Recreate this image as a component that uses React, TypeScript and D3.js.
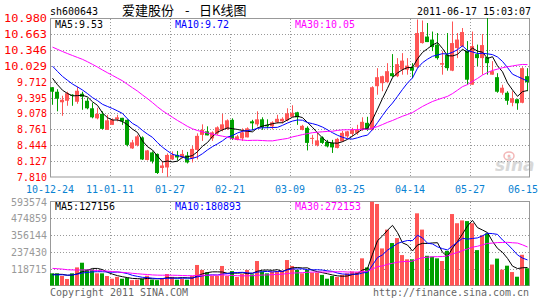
import React from "react";
import * as d3 from "d3";

const W = 545;
const H = 300;

const xLabels = ["10-12-24", "11-01-11", "01-27", "02-21", "03-09", "03-25", "04-14", "05-27", "06-15"];
const priceTicks = [10.98, 10.663, 10.346, 10.029, 9.712, 9.395, 9.078, 8.761, 8.444, 8.127, 7.81];
const volTicks = [593574, 474859, 356144, 237430, 118715];
const priceMaText = ["MA5:9.53", "MA10:9.72", "MA30:10.05"];
const volMaText = ["MA5:127156", "MA10:180893", "MA30:272153"];

const openP = [9.60,9.51,9.30,9.33,9.45,9.31,9.47,9.33,9.18,8.98,9.07,8.75,8.85,8.96,8.99,8.95,8.38,8.44,8.60,8.15,8.30,8.27,7.99,8.00,8.16,8.25,8.20,8.24,8.18,8.35,8.65,8.72,8.58,8.68,8.75,8.77,8.95,8.55,8.58,8.60,8.92,8.86,8.96,8.85,8.82,8.90,8.92,8.94,9.01,9.10,8.75,8.79,8.57,8.44,8.60,8.51,8.49,8.39,8.52,8.62,8.67,8.69,8.75,8.89,8.75,9.62,9.68,9.70,9.88,9.82,9.95,9.95,10.00,10.00,10.48,10.61,10.55,10.45,10.05,10.25,9.93,10.38,10.42,10.33,9.65,10.26,10.18,10.20,9.85,9.80,9.49,9.49,9.29,9.36,9.29,9.82];
const highP = [9.60,9.56,9.43,9.51,9.46,9.61,9.51,9.39,9.29,9.19,9.12,9.05,8.98,9.05,8.99,8.96,8.55,8.65,8.62,8.35,8.32,8.28,8.13,8.28,8.32,8.33,8.35,8.31,8.43,8.68,8.86,8.82,8.72,8.82,9.07,8.96,8.98,8.65,8.78,8.80,8.95,9.12,9.00,8.96,8.92,9.05,9.00,9.18,9.24,9.11,8.85,8.82,8.65,8.69,8.62,8.55,8.55,8.59,8.73,8.73,8.79,8.85,9.00,9.01,9.62,9.98,9.83,10.08,10.26,10.18,10.28,10.18,10.08,10.95,10.93,10.88,10.71,10.68,10.32,10.68,10.91,10.68,10.78,10.52,10.71,10.45,10.66,10.98,10.12,9.88,9.65,9.52,9.52,9.37,10.00,9.98];
const lowP = [9.25,9.12,9.03,9.23,9.23,9.27,9.15,9.16,8.98,8.96,8.76,8.75,8.85,8.92,8.85,8.42,8.37,8.42,8.15,8.14,8.08,7.87,7.89,7.81,8.15,8.14,8.18,8.08,8.10,8.16,8.53,8.64,8.53,8.65,8.72,8.75,8.55,8.54,8.53,8.60,8.74,8.82,8.75,8.78,8.76,8.88,8.88,8.92,9.01,8.85,8.74,8.34,8.46,8.42,8.47,8.40,8.29,8.38,8.51,8.59,8.62,8.65,8.73,8.73,8.74,9.45,9.52,9.68,9.80,9.80,9.85,9.85,9.78,9.98,10.47,10.50,10.32,10.15,9.85,9.93,9.92,10.18,10.40,9.65,9.65,10.02,9.85,9.85,9.85,9.49,9.45,9.25,9.22,9.15,9.28,9.52];
const closeP = [9.51,9.37,9.35,9.48,9.43,9.53,9.41,9.18,9.00,9.07,8.77,8.94,8.95,9.00,8.92,8.45,8.50,8.62,8.16,8.34,8.12,7.89,8.04,8.25,8.25,8.20,8.27,8.10,8.37,8.63,8.75,8.64,8.70,8.80,8.86,8.94,8.57,8.62,8.70,8.78,8.88,8.96,8.80,8.82,8.90,8.97,8.97,9.08,9.09,9.00,8.83,8.49,8.59,8.54,8.49,8.42,8.40,8.57,8.69,8.72,8.75,8.75,8.91,8.75,9.60,9.80,9.82,9.92,9.82,10.06,10.13,10.03,9.93,10.68,10.70,10.50,10.40,10.18,10.08,9.98,10.48,10.55,10.70,9.75,10.42,10.18,10.44,10.08,9.92,9.51,9.59,9.33,9.38,9.28,9.98,9.70];
const volK = [86,86,67,46,86,128,161,114,114,86,86,67,48,61,48,55,38,41,48,69,41,38,48,81,61,41,48,41,67,145,110,93,67,67,138,67,102,61,81,110,79,173,99,86,99,102,105,180,138,110,86,110,91,91,75,48,67,61,75,86,99,95,192,128,592,576,262,395,300,335,215,185,185,510,395,210,204,192,173,245,505,440,460,455,440,250,355,368,148,190,112,140,95,62,217,122];

// sessions before the first drawn candle (only feed the moving averages)
const prevClose = [10.70,10.65,10.72,10.60,10.68,10.55,10.62,10.58,10.66,10.52,10.60,10.55,10.63,10.50,10.58,10.54,10.60,10.48,10.55,10.49,10.42,10.35,10.25,10.18,10.10,10.02,9.90,9.80,9.667];
const prevVolK = [160,150,175,130,140,155,120,165,145,135,150,125,160,140,130,155,135,145,130,135,80,65,75,70,65,85,70,78,76];

const RED = "#ff5555";
const GREEN = "#00a000";
const MA_COLORS = ["#000000", "#0000ff", "#ff00ff"];
const MA_N = [5, 10, 30];
const FONT = "'DejaVu Sans Mono', monospace";
const CW = 6;

function movingAvg(prev: number[], vals: number[], n: number): number[] {
  const all = prev.concat(vals);
  const off = prev.length;
  return vals.map((_, i) => {
    const end = off + i;
    return d3.mean(all.slice(end - n + 1, end + 1)) as number;
  });
}

function T(props: any) {
  const { children, len, ...rest } = props;
  const s = String(children);
  return (
    <text fontFamily={FONT} fontSize={11} textLength={len || s.length * CW} lengthAdjust="spacingAndGlyphs" {...rest}>
      {s}
    </text>
  );
}

export default function App() {
  const x = d3.scaleLinear().domain([0, 96]).range([50, 530]);
  const yP = d3.scaleLinear().domain([7.81, 10.98]).range([177, 18]);
  const yV = d3.scaleLinear().domain([0, 593574]).range([285.5, 201.5]);

  const vol = volK.map((v) => v * 1000);
  const prevVol = prevVolK.map((v) => v * 1000);

  const priceMA = MA_N.map((m) => movingAvg(prevClose, closeP, m));
  const volMA = MA_N.map((m) => movingAvg(prevVol, vol, m));

  const lineP = d3.line<number>().x((_, i) => x(i) + 2.5).y((d) => yP(d));
  const lineV = d3.line<number>().x((_, i) => x(i) + 2.5).y((d) => yV(d));

  const vGrid = d3.range(1, 8).map((k) => x(k * 12) + 0.5);
  const crisp = (v: number) => Math.round(v) + 0.5;
  const legendX = [55, 175, 295];

  return (
    <svg width={W} height={H} style={{ display: "block", position: "absolute", left: 0, top: 0, background: "#fff" }}>
      <rect x={0} y={0} width={W} height={H} fill="#fff" />

      {/* header */}
      <T x={50} y={15} fill="#000">sh600643</T>
      <text x={122} y={15} fontFamily="'Noto Sans CJK SC'" fontSize={13} fill="#000">爱建股份</text>
      <text x={185} y={15} fontFamily="'Noto Sans CJK SC'" fontSize={13} fill="#000">-</text>
      <text x={199} y={15} fontFamily="'Noto Sans CJK SC'" fontSize={13} fill="#000">日K线图</text>
      <T x={531} y={15} textAnchor="end" fill="#000">2011-06-17 15:03:07</T>

      {/* watermark */}
      <g opacity={0.9}>
        <ellipse cx={509} cy={156} rx={5} ry={4} fill="none" stroke="#f2b0b0" strokeWidth={1.5} />
        <circle cx={509} cy={156} r={1.5} fill="#f2b0b0" />
        <text x={495} y={171} fontFamily="'DejaVu Sans'" fontWeight="bold" fontStyle="italic" fontSize={17} fill="#d4d4d4">sina</text>
      </g>

      {/* price grid */}
      {priceTicks.slice(1, -1).map((t) => (
        <line key={t} x1={51} x2={529} y1={crisp(yP(t))} y2={crisp(yP(t))} stroke="#999" strokeDasharray="1,2" />
      ))}
      {vGrid.map((gx) => (
        <line key={gx} x1={gx} x2={gx} y1={19} y2={177} stroke="#999" strokeDasharray="1,2" />
      ))}

      {/* volume grid */}
      {volTicks.slice(1).map((t) => (
        <line key={t} x1={51} x2={529} y1={crisp(yV(t))} y2={crisp(yV(t))} stroke="#999" strokeDasharray="1,2" />
      ))}
      {vGrid.map((gx) => (
        <line key={"v" + gx} x1={gx} x2={gx} y1={202} y2={285} stroke="#999" strokeDasharray="1,2" />
      ))}

      {/* frames */}
      <rect x={50.5} y={18.5} width={479} height={158.5} fill="none" stroke="#999" />
      <rect x={50.5} y={201.5} width={479} height={84} fill="none" stroke="#999" />

      {/* candles */}
      {closeP.map((c, i) => {
        const o = openP[i];
        const up = c >= o;
        const col = up ? RED : GREEN;
        const top = yP(Math.max(o, c));
        const bot = yP(Math.min(o, c));
        return (
          <g key={i}>
            <line x1={x(i) + 2.5} x2={x(i) + 2.5} y1={yP(highP[i])} y2={yP(lowP[i])} stroke={col} />
            <rect x={x(i)} y={top} width={4} height={Math.max(1, bot - top)} fill={col} />
          </g>
        );
      })}

      {/* volume bars */}
      {vol.map((v, i) => (
        <rect key={i} x={x(i)} y={yV(v)} width={4} height={yV(0) - yV(v)} fill={closeP[i] >= openP[i] ? RED : GREEN} />
      ))}

      {/* MA lines */}
      {priceMA.map((m, k) => (
        <path key={"pm" + k} d={lineP(m) || ""} fill="none" stroke={MA_COLORS[k]} strokeWidth={1} />
      ))}
      {volMA.map((m, k) => (
        <path key={"vm" + k} d={lineV(m) || ""} fill="none" stroke={MA_COLORS[k]} strokeWidth={1} />
      ))}

      {/* legends */}
      {priceMaText.map((s, k) => (
        <g key={"pl" + k}>
          <rect x={legendX[k] - 4} y={19} width={s.length * CW + 6} height={13} fill="#fff" />
          <T x={legendX[k]} y={28} fill={MA_COLORS[k]}>{s}</T>
        </g>
      ))}
      {volMaText.map((s, k) => (
        <g key={"vl" + k}>
          <rect x={legendX[k] - 4} y={202} width={s.length * CW + 6} height={12} fill="#fff" />
          <T x={legendX[k]} y={210} fill={MA_COLORS[k]}>{s}</T>
        </g>
      ))}

      {/* axis labels */}
      {priceTicks.map((t) => {
        const s = t.toFixed(3);
        return (
          <T key={"pt" + t} x={47} y={yP(t) + 4} textAnchor="end" fill="#ff0000" len={s.length === 6 ? 43 : 30}>{s}</T>
        );
      })}
      {volTicks.map((t) => (
        <T key={"vt" + t} x={47} y={yV(t) + 4} textAnchor="end" fill="#999">{String(t)}</T>
      ))}
      {xLabels.map((s, k) => {
        const last = k === xLabels.length - 1;
        return (
          <T key={s} x={last ? 538 : x(k * 12)} y={193} textAnchor={last ? "end" : "middle"} fill="#0a82d2">{s}</T>
        );
      })}

      {/* footer */}
      <T x={50} y={296} fill="#666">Copyright 2011 SINA.COM</T>
      <T x={529} y={296} textAnchor="end" fill="#666">http://finance.sina.com.cn</T>
    </svg>
  );
}
